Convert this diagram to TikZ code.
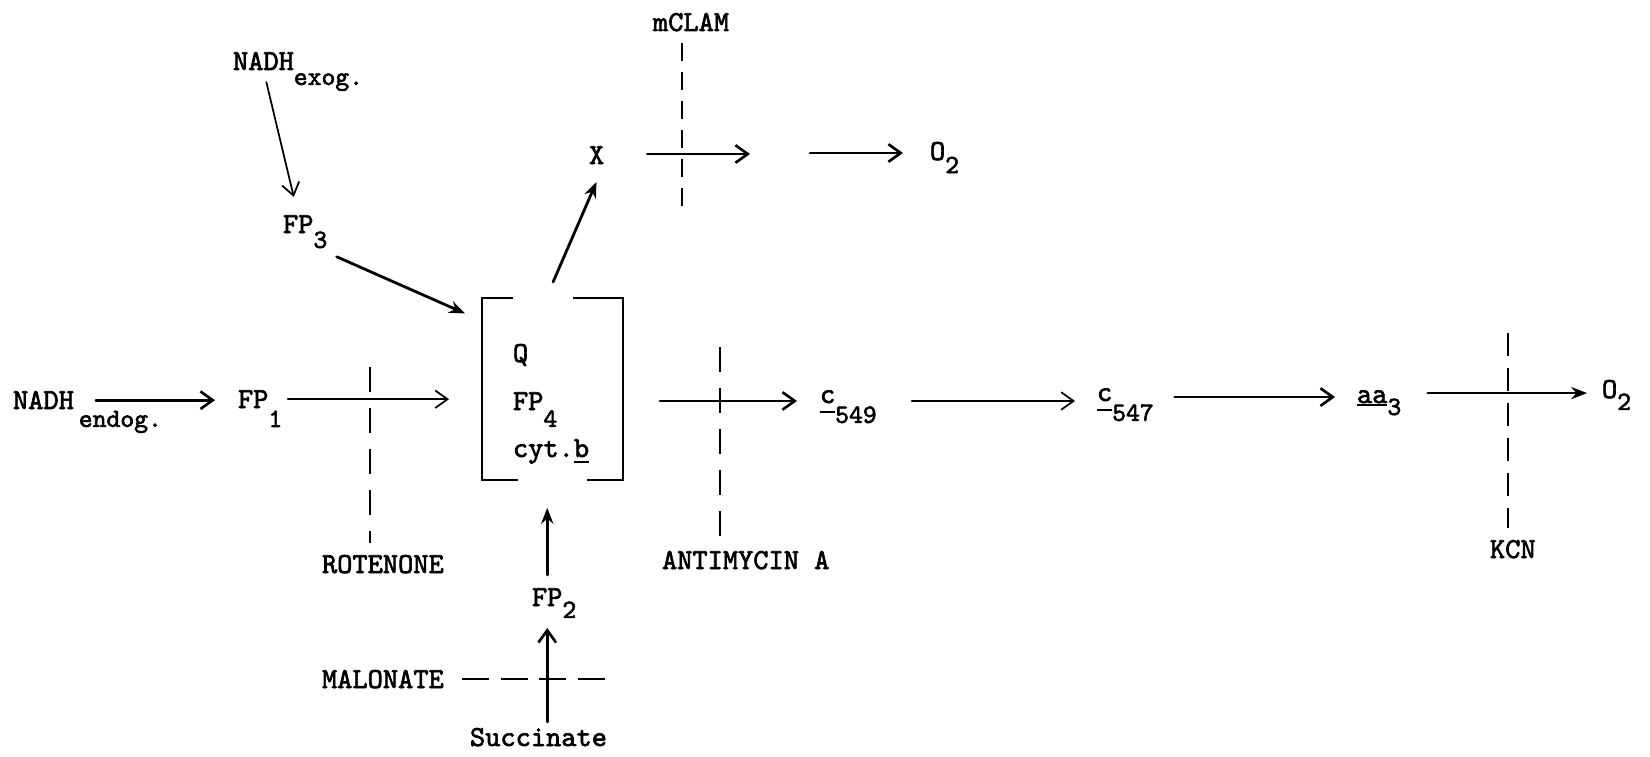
\documentclass[tikz,border=0pt]{standalone}
\usepackage{fontspec}
\newfontfamily\tw{lmmono10-regular}[Extension=.otf,FakeBold=2.2]
\usetikzlibrary{arrows.meta}
\newcommand{\sbs}[2]{\raisebox{-#1}{\fontsize{15}{17}\selectfont #2}}
\newcommand{\ulc}[2]{\setbox0=\hbox{#1}\rlap{\raisebox{-#2}{\rule{\wd0}{1.2pt}}}\box0}
\begin{document}
\begin{tikzpicture}[x=0.02cm,y=-0.02cm,
  lbl/.style={inner sep=0pt,outer sep=0pt,anchor=base west,text height=10pt,text depth=0pt,
    font=\tw\fontsize{16.5}{19}\selectfont},
  arr/.style={line width=1.5pt,line cap=round,-{Straight Barb[length=7pt,width=10pt]}},
  thinarr/.style={line width=1pt,line cap=round,-{Straight Barb[length=7pt,width=10pt]}},
  fillarr/.style={line width=1.6pt,line cap=round,-{Stealth[length=9pt,width=7pt]}},
  inhb/.style={line width=1.2pt,dash pattern=on 0.5cm off 0.32cm},
  brk/.style={line width=1.3pt,line join=miter}
]
\useasboundingbox[fill=white] (0,0) rectangle (1650,757);

% nodes
\node[lbl] (nadhex) at (233,70) {NADH\rlap{\sbs{8.5pt}{exog.}}};
\node[lbl] (fp3) at (283,233) {FP\rlap{\sbs{8.5pt}{3}}};
\node[lbl] (xx) at (589,164) {X};
\node[lbl] (mclam) at (653,31) {mCLAM};
\node[lbl] (o2t) at (930,160) {O\rlap{\sbs{7.5pt}{2}}};
\node[lbl] (nadhen) at (13,409) {NADH\rlap{\kern0.1cm\sbs{10.2pt}{endog.}}};
\node[lbl] (fp1) at (238,408) {FP\sbs{10.8pt}{1}};
\node[inner sep=0pt,outer sep=0pt,minimum width=2.82cm,minimum height=3.64cm] (cplx) at (552.5,389) {};
\node[lbl] (q) at (513,362) {Q};
\node[lbl] (fp4) at (513,410) {FP\sbs{9.6pt}{4}};
\node[lbl] (cytb) at (513,457) {cyt.\ulc{b}{3.4pt}};
\node[lbl,text height=2.3pt] (c549) at (820,403) {\ulc{c}{5.7pt}\sbs{11.3pt}{549}};
\node[lbl,text height=4.5pt] (c547) at (1097,401) {\ulc{c}{5.7pt}\sbs{11.3pt}{547}};
\node[lbl,text height=11.3pt] (aa3) at (1357,403) {\ulc{aa}{1.7pt}\sbs{6.8pt}{3}};
\node[lbl] (o2r) at (1602,398) {O\rlap{\sbs{6.8pt}{2}}};
\node[lbl] (rot) at (322,573) {ROTENONE};
\node[lbl] (ant) at (662,569) {ANTIMYCIN A};
\node[lbl] (kcn) at (1490,558) {KCN};
\node[lbl] (fp2) at (532,606) {FP\rlap{\sbs{6.8pt}{2}}};
\node[lbl] (mal) at (322,688) {MALONATE};
\node[lbl] (succ) at (470,746) {Succinate};

% free ends
\coordinate (xend) at (750,154);
\coordinate (ostart) at (810,153);
\coordinate (mcb) at (682,210);
\coordinate (rott) at (370,367);
\coordinate (antt) at (720,347);
\coordinate (kcnt) at (1508,333);
\coordinate (malend) at (605,680);

% bracket
\draw[brk] ([xshift=0.62cm]cplx.north west) -- (cplx.north west) -- (cplx.south west) -- ([xshift=0.72cm]cplx.south west);
\draw[brk] ([xshift=-1.0cm]cplx.north east) -- (cplx.north east) -- (cplx.south east) -- ([xshift=-0.72cm]cplx.south east);

% connectors
\draw[thinarr,shorten <=0.25cm,shorten >=0.38cm] (nadhex.south) -- (fp3.north);
\draw[fillarr,shorten <=0.51cm,shorten >=0.37cm] ([yshift=-0.27cm]fp3.south east) -- (cplx.136.8);
\draw[fillarr,shorten <=0.35cm,shorten >=0.39cm] (cplx.94.2) -- (xx.south east);
\draw[arr,shorten <=0.86cm] (xx.east |- xend) -- (xend);
\draw[arr,shorten >=0.54cm] (ostart) -- (ostart -| o2t.west);
\draw[arr,shorten <=0.44cm,shorten >=0.46cm] (nadhen.east) -- (nadhen.east -| fp1.west);
\draw[thinarr,shorten <=0.11cm,shorten >=0.66cm] (fp1.east) -- (fp1.east -| cplx.west);
\draw[arr,shorten <=0.74cm,shorten >=0.46cm] (c549.west -| cplx.east) -- (c549.west);
\draw[thinarr,shorten <=0.7cm,shorten >=0.44cm] (c549.east) -- (c549.east -| c547.west);
\draw[arr,shorten <=0.42cm,shorten >=0.44cm] (c547.east) -- (c547.east -| aa3.west);
\draw[fillarr,shorten <=0.53cm,shorten >=0.3cm] (aa3.east) -- (aa3.east -| o2r.west);
\draw[fillarr,shorten <=0.27cm,shorten >=0.56cm] (fp2.north) -- (fp2.north |- cplx.south);
\draw[arr,shorten <=0.13cm,shorten >=0.44cm] (fp2.south |- succ.north) -- (fp2.south);

% inhibitor lines
\draw[inhb,dash pattern=on 0.36cm off 0.22cm,shorten <=0.24cm] (mcb |- mclam.south) -- (mcb);
\draw[inhb,shorten >=0.25cm] (rott) -- (rott |- rot.north);
\draw[inhb,shorten >=0.19cm] (antt) -- (antt |- ant.north);
\draw[inhb,dash pattern=on 0.46cm off 0.24cm,shorten >=0.25cm] (kcnt) -- (kcnt |- kcn.north);
\draw[inhb,dash pattern=on 0.54cm off 0.23cm,shorten <=0.37cm] (mal.east) -- (mal.east -| malend);
\end{tikzpicture}
\end{document}
